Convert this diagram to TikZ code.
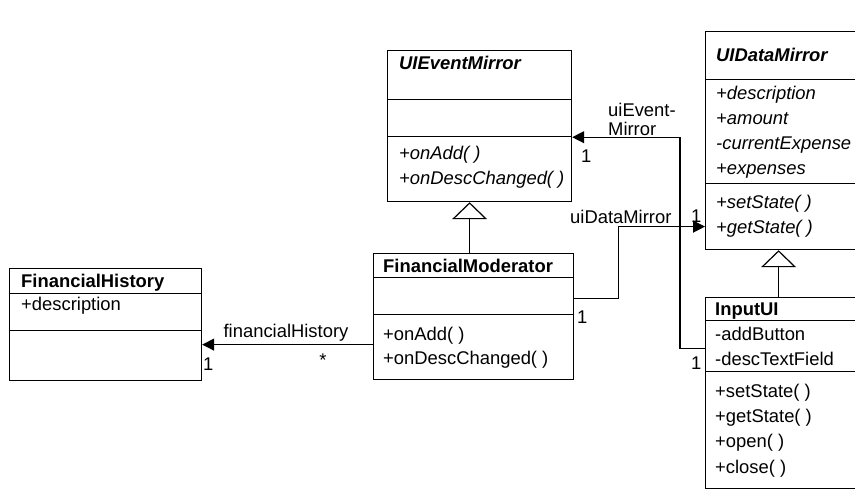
\documentclass[tikz,border=0pt]{standalone}
\usepackage{fontspec}
\setmainfont{Liberation Sans}
\usetikzlibrary{arrows.meta}

\begin{document}
\begin{tikzpicture}[x=1pt, y=-1pt,
  compart/.style={draw, line width=1.2pt, inner sep=0pt, anchor=north west},
  member/.style={anchor=base west, inner sep=0pt, font=\fontsize{18.4}{22}\selectfont},
  clsname/.style={member, font=\fontsize{18.4}{22}\selectfont\bfseries},
  absname/.style={member, font=\fontsize{18.4}{22}\selectfont\bfseries\itshape},
  absmember/.style={member, font=\fontsize{18.4}{22}\selectfont\itshape},
  assoc/.style={-{Triangle[length=12pt, width=12pt]}, line width=1.2pt},
  inherit/.style={-{Triangle[open, length=17pt, width=35pt]}, line width=1.2pt}
]
  \useasboundingbox (0,0) rectangle (855,490);

  % FinancialHistory
  \node[compart, minimum width=192pt, minimum height=25pt] (fh-top) at (9,268) {};
  \node[compart, minimum width=192pt, minimum height=37pt] (fh-attr) at (9,293) {};
  \node[compart, minimum width=192pt, minimum height=50pt] (fh-ops) at (9,330) {};
  \node[clsname] (fh-title) at (21,287) {FinancialHistory};
  \node[member] (fh-desc) at (21,310) {+description};

  % FinancialModerator
  \node[compart, minimum width=200pt, minimum height=24pt] (fm-top) at (373,253) {};
  \node[compart, minimum width=200pt, minimum height=37pt] (fm-attr) at (373,277) {};
  \node[compart, minimum width=200pt, minimum height=65pt] (fm-ops) at (373,314) {};
  \node[clsname] (fm-title) at (383,272) {FinancialModerator};
  \node[member] (fm-add) at (383,340) {+onAdd( )};
  \node[member] (fm-chg) at (383,364) {+onDescChanged( )};

  % UIEventMirror
  \node[compart, minimum width=184pt, minimum height=49pt] (uiev-top) at (387,50) {};
  \node[compart, minimum width=184pt, minimum height=37pt] (uiev-attr) at (387,99) {};
  \node[compart, minimum width=184pt, minimum height=65pt] (uiev-ops) at (387,136) {};
  \node[absname] (uiev-title) at (399,69) {UIEventMirror};
  \node[absmember] (uiev-add) at (399,159) {+onAdd( )};
  \node[absmember] (uiev-chg) at (399,184) {+onDescChanged( )};

  % UIDataMirror
  \node[compart, minimum width=155pt, minimum height=48pt] (udm-top) at (705,31) {};
  \node[compart, minimum width=155pt, minimum height=104pt] (udm-attr) at (705,79) {};
  \node[compart, minimum width=155pt, minimum height=66pt] (udm-ops) at (705,183) {};
  \node[absname] (udm-title) at (716,61) {UIDataMirror};
  \node[absmember] (udm-desc) at (716,99) {+description};
  \node[absmember] (udm-amount) at (716,124) {+amount};
  \node[absmember] (udm-current) at (716,149) {-currentExpense};
  \node[absmember] (udm-expenses) at (716,174) {+expenses};
  \node[absmember] (udm-set) at (716,208.5) {+setState( )};
  \node[absmember] (udm-get) at (716,233) {+getState( )};

  % InputUI
  \node[compart, minimum width=155pt, minimum height=23pt] (in-top) at (705,297) {};
  \node[compart, minimum width=155pt, minimum height=51pt] (in-attr) at (705,320) {};
  \node[compart, minimum width=155pt, minimum height=117pt] (in-ops) at (705,371) {};
  \node[clsname] (in-title) at (715,315) {InputUI};
  \node[member] (in-button) at (715,340) {-addButton};
  \node[member] (in-field) at (715,365) {-descTextField};
  \node[member] (in-set) at (715,397) {+setState( )};
  \node[member] (in-get) at (715,422) {+getState( )};
  \node[member] (in-open) at (715,447.5) {+open( )};
  \node[member] (in-close) at (715,473) {+close( )};

  % generalisations
  \draw[inherit] ([xshift=-4pt]fm-top.north) -- ([xshift=-4pt]fm-top.north |- uiev-ops.south);
  \draw[inherit] ([xshift=-4.5pt]in-top.north) -- ([xshift=-4.5pt]in-top.north |- udm-ops.south);

  % associations
  \draw[assoc] ([yshift=2.5pt]fm-ops.west) -- ([yshift=2.5pt]fm-ops.west -| fh-ops.east);
  \draw[assoc] ([yshift=-2pt]fm-attr.east) -- ++(44,0) |- ([yshift=-10pt]udm-ops.west);
  \draw[assoc] ([yshift=-2.5pt]in-attr.west) -- ++(-25,0) |- (uiev-attr.south east);

  % role names and multiplicities
  \node[member, anchor=base] (fh-role) at (286,337) {financialHistory};
  \node[member, anchor=base] (fh-many) at (323,366) {*};
  \node[member] (fh-one) at (203,370) {1};
  \node[member] (udm-role) at (570,223) {uiDataMirror};
  \node[member] (udm-one) at (691,222) {1};
  \node[member] (fm-one) at (577,323) {1};
  \node[member] (uiev-role1) at (608,116) {uiEvent-};
  \node[member] (uiev-role2) at (608,135) {Mirror};
  \node[member] (uiev-one) at (581,162) {1};
  \node[member] (in-one) at (691,369) {1};
\end{tikzpicture}
\end{document}
